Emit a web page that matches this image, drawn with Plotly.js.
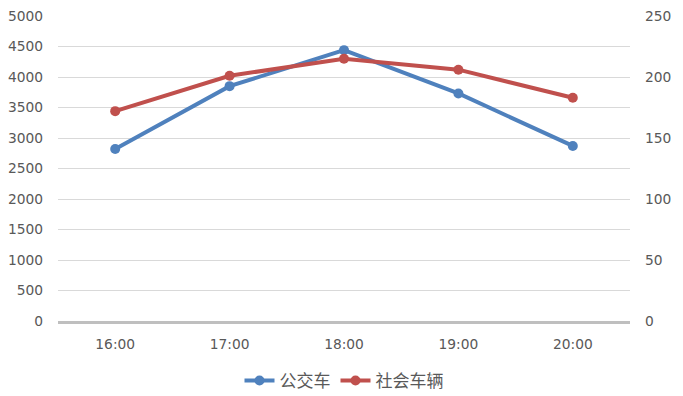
<!DOCTYPE html>
<html>
<head>
<meta charset="utf-8">
<script src="https://cdn.plot.ly/plotly-3.0.1.min.js"></script>
<style>html,body{margin:0;padding:0;background:#fff;}#chart{width:683px;height:396px;}</style>
</head>
<body>
<div id="chart"></div>
<script>
const categories = ['16:00', '17:00', '18:00', '19:00', '20:00'];
const busName = '公交车';
const carName = '社会车辆';
const busValues = [2820, 3850, 4440, 3730, 2870];
const carValues = [172, 201, 215, 206, 183];
const leftTicks = [0, 500, 1000, 1500, 2000, 2500, 3000, 3500, 4000, 4500, 5000];
const rightTicks = [0, 50, 100, 150, 200, 250];

const tickFont = {family: 'DejaVu Sans, Noto Sans CJK SC', size: 13.8, color: '#595959'};

const traces = [
  {
    x: categories, y: busValues, name: busName, type: 'scatter', mode: 'lines+markers',
    yaxis: 'y',
    line: {color: '#4f81bd', width: 4},
    marker: {color: '#4f81bd', size: 10}
  },
  {
    x: categories, y: carValues, name: carName, type: 'scatter', mode: 'lines+markers',
    yaxis: 'y2',
    line: {color: '#c0504d', width: 4},
    marker: {color: '#c0504d', size: 10}
  }
];

const layout = {
  width: 683, height: 396,
  margin: {l: 58, r: 53, t: 16, b: 75, autoexpand: false},
  paper_bgcolor: '#ffffff', plot_bgcolor: '#ffffff',
  showlegend: true,
  legend: {
    orientation: 'h', x: 0.5, xanchor: 'center',
    yref: 'container', y: 0.038, yanchor: 'middle',
    font: {family: 'Noto Sans CJK SC', size: 17, color: '#595959'},
    itemwidth: 30
  },
  xaxis: {
    type: 'category', range: [-0.5, 4.5], automargin: false,
    showgrid: false, zeroline: false,
    showline: true, linecolor: '#bfbfbf', linewidth: 3,
    ticks: '', ticklabelstandoff: 8,
    tickfont: tickFont, fixedrange: true
  },
  yaxis: {
    range: [0, 5000], tickvals: leftTicks, ticktext: leftTicks.map(String), automargin: false,
    showgrid: true, gridcolor: '#d9d9d9', gridwidth: 1,
    zeroline: false, showline: false,
    ticks: '', ticklabelstandoff: 14,
    tickfont: tickFont
  },
  yaxis2: {
    range: [0, 250], tickvals: rightTicks, ticktext: rightTicks.map(String), automargin: false,
    overlaying: 'y', side: 'right',
    showgrid: false, zeroline: false, showline: false,
    ticks: '', ticklabelstandoff: 14,
    tickfont: tickFont
  }
};

Plotly.newPlot('chart', traces, layout, {staticPlot: true, displayModeBar: false});
</script>
</body>
</html>
